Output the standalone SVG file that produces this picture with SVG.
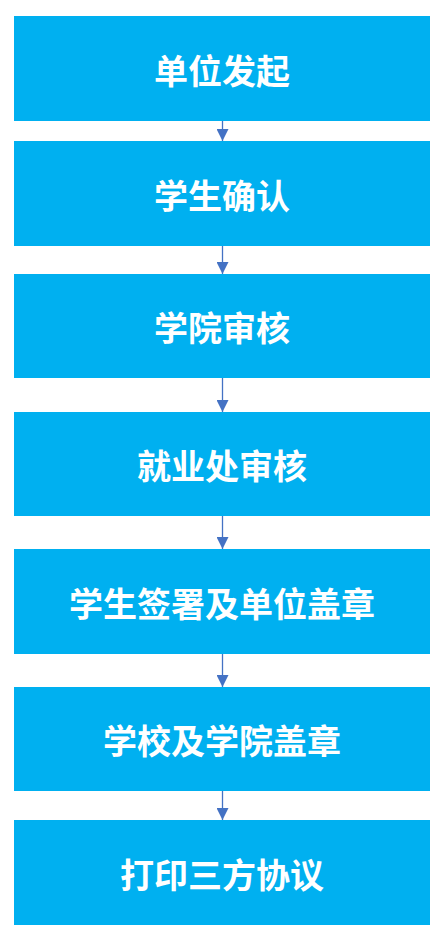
<svg xmlns="http://www.w3.org/2000/svg" width="443" height="935" viewBox="0 0 443 935">
<style>
.box{fill:#00B0F0}
.lbl{fill:#fff;font-family:"Noto Sans CJK SC","Noto Sans",sans-serif;font-weight:bold;font-size:34px;text-anchor:middle;dominant-baseline:central}
.con{stroke:#4472C4;stroke-width:1.3;fill:none}
</style>
<defs>
<marker id="ah" markerUnits="userSpaceOnUse" markerWidth="12" markerHeight="12" refX="12" refY="6" orient="auto" viewBox="0 0 12 12">
<path d="M0,0 L12,6 L0,12 z" fill="#4472C4"/>
</marker>
</defs>
<g id="connectors">
<line class="con" x1="222.5" y1="121" x2="222.5" y2="141" marker-end="url(#ah)"/>
<line class="con" x1="222.5" y1="246" x2="222.5" y2="274" marker-end="url(#ah)"/>
<line class="con" x1="222.5" y1="378" x2="222.5" y2="412" marker-end="url(#ah)"/>
<line class="con" x1="222.5" y1="516" x2="222.5" y2="549" marker-end="url(#ah)"/>
<line class="con" x1="222.5" y1="654" x2="222.5" y2="687" marker-end="url(#ah)"/>
<line class="con" x1="222.5" y1="791" x2="222.5" y2="820" marker-end="url(#ah)"/>
</g>
<g id="n1"><rect class="box" x="14" y="16" width="416" height="105"/><text class="lbl" x="222" y="69">单位发起</text></g>
<g id="n2"><rect class="box" x="14" y="141" width="416" height="105"/><text class="lbl" x="222" y="194">学生确认</text></g>
<g id="n3"><rect class="box" x="14" y="274" width="416" height="104"/><text class="lbl" x="222" y="326">学院审核</text></g>
<g id="n4"><rect class="box" x="14" y="412" width="416" height="104"/><text class="lbl" x="222" y="464">就业处审核</text></g>
<g id="n5"><rect class="box" x="14" y="549" width="416" height="105"/><text class="lbl" x="222" y="602">学生签署及单位盖章</text></g>
<g id="n6"><rect class="box" x="14" y="687" width="416" height="104"/><text class="lbl" x="222" y="739">学校及学院盖章</text></g>
<g id="n7"><rect class="box" x="14" y="820" width="416" height="105"/><text class="lbl" x="222" y="873">打印三方协议</text></g>
</svg>
